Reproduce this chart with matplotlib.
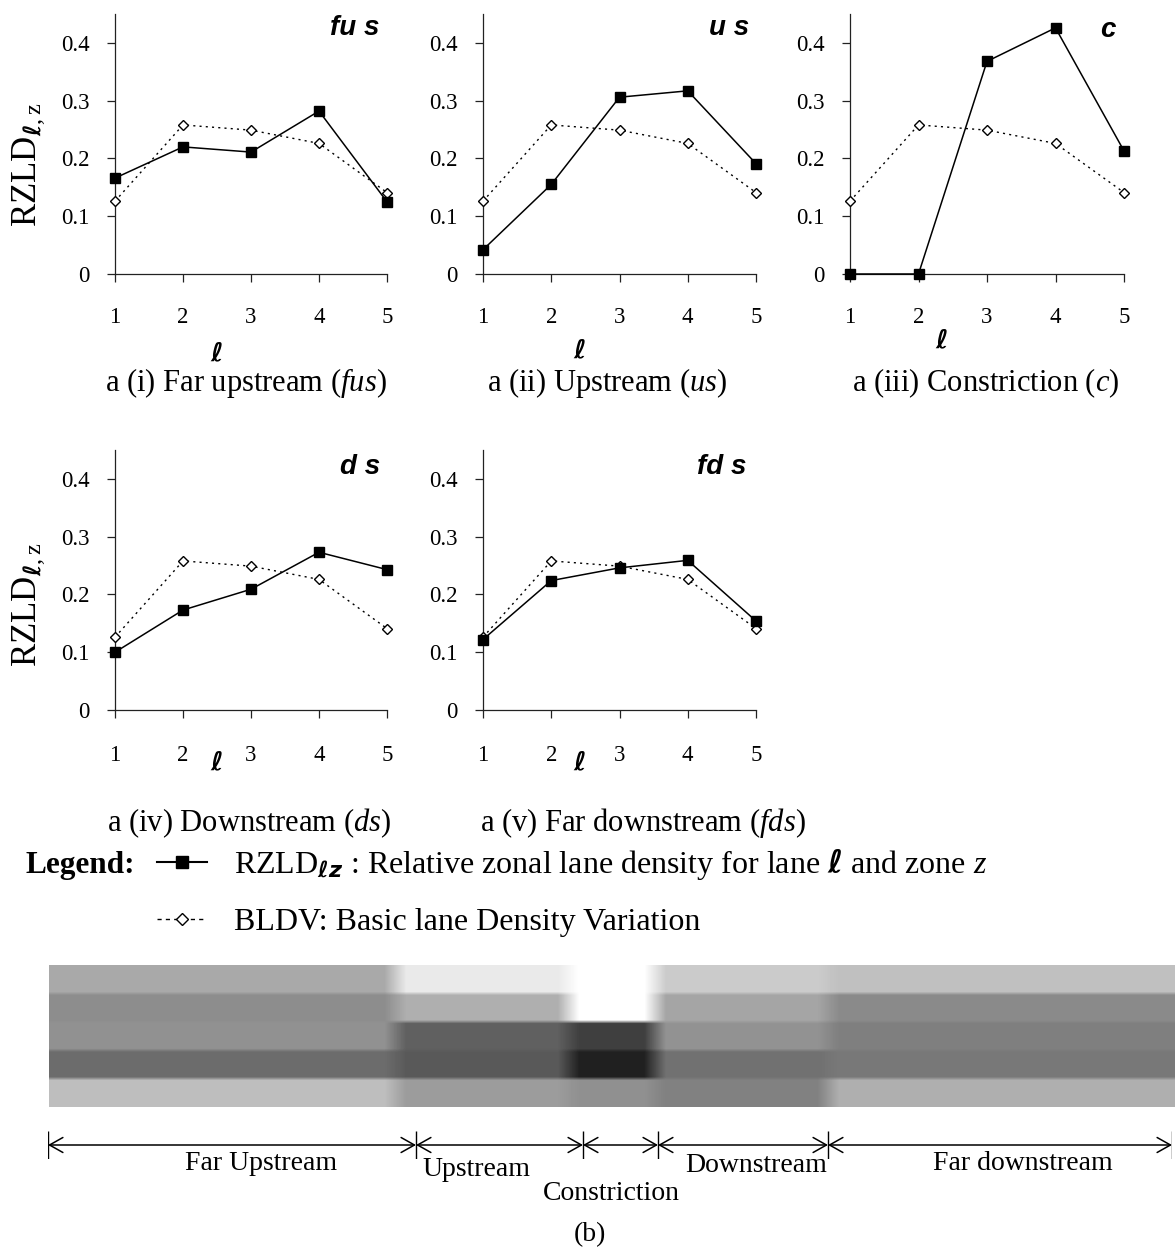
import numpy as np
import matplotlib
matplotlib.use('Agg')
import matplotlib.pyplot as plt
from matplotlib.lines import Line2D

plt.rcParams['font.family'] = ['Liberation Serif', 'DejaVu Serif']
plt.rcParams['mathtext.fontset'] = 'custom'
plt.rcParams['mathtext.rm'] = 'Liberation Serif'
plt.rcParams['mathtext.it'] = 'Liberation Serif:italic'
plt.rcParams['mathtext.bf'] = 'DejaVu Sans:bold:italic'

# ---- data ----
lanes = [1, 2, 3, 4, 5]
bldv = [0.126, 0.258, 0.249, 0.226, 0.141]      # basic lane density variation
rzld_fus = [0.166, 0.220, 0.211, 0.282, 0.125]
rzld_us = [0.042, 0.155, 0.306, 0.317, 0.191]
rzld_c = [0.0, 0.0, 0.368, 0.426, 0.213]
rzld_ds = [0.100, 0.173, 0.209, 0.273, 0.243]
rzld_fds = [0.122, 0.224, 0.246, 0.259, 0.154]

zone_tags = ['fu s', 'u s', 'c', 'd s', 'fd s']
captions = [r'a (i) Far upstream ($\mathit{fus}$)',
            r'a (ii) Upstream ($\mathit{us}$)',
            r'a (iii) Constriction ($\mathit{c}$)',
            r'a (iv) Downstream ($\mathit{ds}$)',
            r'a (v) Far downstream ($\mathit{fds}$)']
zone_names = ['Far Upstream', 'Upstream', 'Constriction', 'Downstream', 'Far downstream']
yticks = [0, 0.1, 0.2, 0.3, 0.4]
ytick_labels = ['0', '0.1', '0.2', '0.3', '0.4']

W, H = 1175, 1250

def box(l, t, r, b):
    return [l / W, 1 - b / H, (r - l) / W, (b - t) / H]

def fig_text(x, y, s, **kw):
    fig.text(x / W, 1 - y / H, s, ha='center', va='center', **kw)

fig = plt.figure(figsize=(W / 100, H / 100), dpi=100)

# panel layout in pixels (left, top, right, bottom)
panel_px = [(115, 14, 387, 274), (483, 14, 756, 274), (850, 14, 1124, 274),
            (115, 450, 387, 710), (483, 450, 756, 710)]
caption_px = [(246, 383), (607, 383), (986, 383), (249, 823), (643, 823)]
ell_px = [(217, 353), (580, 350), (942, 340), (217, 762), (580, 762)]
tag_px = [(355, 28), (729, 28), (1108, 30), (360, 467), (722, 467)]
xpad = [18, 18, 18, 19.5, 19.5]

series = [rzld_fus, rzld_us, rzld_c, rzld_ds, rzld_fds]

for i, vals in enumerate(series):
    ax = fig.add_axes(box(*panel_px[i]))
    ax.plot(lanes, bldv, color='k', lw=1, ls=(0, (1.5, 3)), marker='D', ms=5.5,
            mfc='white', mec='k', mew=1, clip_on=False, zorder=3)
    ax.plot(lanes, vals, color='k', lw=1.1, marker='s', ms=7, clip_on=False, zorder=4)
    ax.set_xlim(1, 5)
    ax.set_ylim(0, 0.45)
    ax.set_xticks(lanes)
    ax.set_yticks(yticks)
    ax.set_yticklabels(ytick_labels)
    for s in ['top', 'right']:
        ax.spines[s].set_visible(False)
    for s in ['left', 'bottom']:
        ax.spines[s].set_linewidth(0.9)
        ax.spines[s].set_color('#222222')
    ax.tick_params(axis='both', direction='out', length=6, width=0.9, color='#222222',
                   labelsize=16.5)
    ax.tick_params(axis='x', pad=xpad[i])
    ax.tick_params(axis='y', pad=12.5)
    fig_text(*tag_px[i], zone_tags[i], family=['Liberation Sans', 'DejaVu Sans'],
             fontsize=20, fontweight='bold', fontstyle='italic')
    fig_text(*ell_px[i], 'ℓ', family=['DejaVu Sans'], fontsize=19,
             fontweight='bold', fontstyle='italic')
    fig_text(*caption_px[i], captions[i], fontsize=22)

# y labels
for y in [165, 605]:
    fig_text(29, y, r'RZLD$_{\mathbf{ℓ}\mathrm{,z}}$', fontsize=25, rotation=90)

# legend
fig_text(80, 865, 'Legend:', fontsize=22.5, fontweight='bold')
handles = [Line2D([], [], color='k', lw=1.5, marker='s', ms=8),
           Line2D([], [], color='k', lw=1, ls=(0, (3, 3)), marker='D', ms=6,
                  mfc='white', mew=1)]
labels = [r'RZLD$_{\mathbf{ℓz}}$ : Relative zonal lane density for lane $\mathbf{ℓ}$ and zone $z$',
          'BLDV: Basic lane Density Variation']
fig.legend(handles, labels, loc='upper left', bbox_to_anchor=(157 / W, 1 - 847 / H),
           frameon=False, fontsize=23, handlelength=1.55, handletextpad=0.85,
           labelspacing=0.8, borderpad=0, borderaxespad=0)

# (b) lane density strip
heat_cols = [16, 8, 4, 8, 16]
dens = np.array(series).T          # lanes x zones
img = np.repeat(np.repeat(dens, heat_cols, axis=1), 8, axis=0)
axh = fig.add_axes(box(49, 965, 1175, 1107))
axh.imshow(img, cmap='gray_r', vmin=0, vmax=0.49, aspect='auto', interpolation='bilinear')
axh.axis('off')

# zone dimension line
zone_span = [368, 167, 75, 170, 344]
edges = np.concatenate([[0], np.cumsum(zone_span)])
axa = fig.add_axes(box(48, 1131, 1172, 1159))
axa.set_xlim(0, edges[-1])
axa.set_ylim(-1, 1)
axa.axis('off')
axa.vlines(edges, -1, 1, color='k', lw=1)
for a, b in zip(edges[:-1], edges[1:]):
    axa.annotate('', xy=(a, 0), xytext=(b, 0),
                 arrowprops=dict(arrowstyle='<->,head_length=0.8,head_width=0.45',
                                 lw=1.1, color='k', shrinkA=0, shrinkB=0,
                                 mutation_scale=12))

name_px = [(261, 1163), (476, 1170), (611, 1193), (756, 1166), (1023, 1163)]
for (x, y), name in zip(name_px, zone_names):
    fig_text(x, y, name, fontsize=20)
fig_text(590, 1235, '(b)', fontsize=20)

fig.savefig('out.png', dpi=100)
